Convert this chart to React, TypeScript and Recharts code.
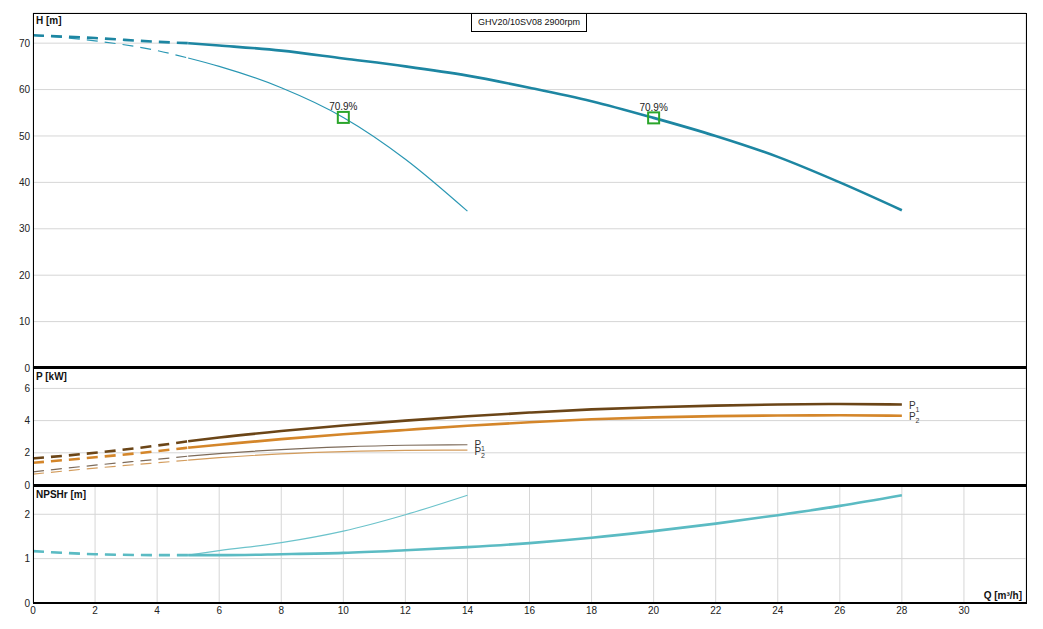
import React from "react";
import { ComposedChart, Line, XAxis, YAxis, CartesianGrid, LabelList } from "recharts";

const qTicks = [0, 2, 4, 6, 8, 10, 12, 14, 16, 18, 20, 22, 24, 26, 28, 30];
const hTicks = [0, 10, 20, 30, 40, 50, 60, 70];
const pTicks = [0, 2, 4, 6];
const npshTicks = [0, 1, 2];

// large curve, 0..28 m3/h
const qBig = [0, 2, 4, 5, 6, 8, 10, 12, 14, 16, 18, 20, 22, 24, 26, 28];
const hBig = [71.7, 71.1, 70.3, 70.0, 69.5, 68.4, 66.7, 65.0, 63.0, 60.4, 57.5, 53.9, 50.0, 45.5, 40.0, 34.0];
const p1Big = [1.65, 2.0, 2.45, 2.72, 2.95, 3.35, 3.7, 4.0, 4.27, 4.5, 4.7, 4.83, 4.93, 5.0, 5.03, 5.0];
const p2Big = [1.38, 1.72, 2.1, 2.32, 2.5, 2.85, 3.15, 3.42, 3.68, 3.9, 4.08, 4.2, 4.28, 4.32, 4.33, 4.3];
const npshBig = [1.17, 1.1, 1.08, 1.08, 1.08, 1.1, 1.13, 1.19, 1.26, 1.35, 1.47, 1.62, 1.79, 1.98, 2.19, 2.43];

// small curve, 0..14 m3/h
const qSmall = [0, 2, 4, 5, 6, 8, 10, 12, 14];
const hSmall = [71.7, 70.5, 68.4, 66.8, 65.0, 60.4, 54.0, 45.0, 33.8];
const p1Small = [0.82, 1.23, 1.6, 1.79, 1.95, 2.2, 2.37, 2.47, 2.5];
const p2Small = [0.68, 1.05, 1.38, 1.54, 1.7, 1.93, 2.07, 2.15, 2.17];
const npshSmall = [1.17, 1.1, 1.08, 1.08, 1.18, 1.36, 1.62, 1.99, 2.43];

// best efficiency points
const effQ = [10, 20];
const effH = [54.0, 53.9];
const effLabel = ["70.9%", "70.9%"];

const DASH_END = 5;

const rows = (qs: number[], vs: number[], from: number, to: number) =>
  qs.map((q, i) => ({ q, v: vs[i] })).filter((r) => r.q >= from && r.q <= to);

const effRows = effQ.map((q, i) => ({ q, v: effH[i], label: effLabel[i] }));

const FONT = "'Liberation Sans', Arial, sans-serif";
const W = 1043;
const LEFT = 33;
const RIGHT = 17;
const GRID = "#d6d6d6";
const tick = { fontSize: 10, fill: "#222", fontFamily: FONT };

const Square = (props: any) => {
  const { cx, cy } = props;
  if (cx == null || cy == null) return null;
  return <rect x={cx - 5.5} y={cy - 5.5} width={11} height={11} fill="none" stroke="#2aa52a" strokeWidth={2} />;
};

const endLabel = (n: string, count: number, dy = 0) => (props: any) => {
  const { x, y, index } = props;
  if (index !== count - 1) return null;
  return (
    <text x={x + 7} y={y + 4 + dy} fontSize={10} fill="#333" fontFamily={FONT}>
      P
      <tspan fontSize={7} dy={3}>
        {n}
      </tspan>
    </text>
  );
};

function curve(key: string, qs: number[], vs: number[], color: string, width: number, extra?: React.ReactNode) {
  const dashed = rows(qs, vs, 0, DASH_END);
  const solid = rows(qs, vs, DASH_END, 100);
  return [
    <Line
      key={key + "-d"}
      data={dashed}
      dataKey="v"
      stroke={color}
      strokeWidth={width}
      strokeDasharray="11 7"
      dot={false}
      type="monotone"
      isAnimationActive={false}
    />,
    <Line
      key={key + "-s"}
      data={solid}
      dataKey="v"
      stroke={color}
      strokeWidth={width}
      dot={false}
      type="monotone"
      isAnimationActive={false}
    >
      {extra}
    </Line>,
  ];
}

const xAxisHidden = (
  <XAxis
    dataKey="q"
    type="number"
    domain={[0, 32]}
    ticks={qTicks}
    height={0}
    tick={false}
    axisLine={false}
    tickLine={false}
    allowDuplicatedCategory={false}
  />
);

const yAxis = (domain: [number, number], ticks: number[]) => (
  <YAxis
    dataKey="v"
    type="number"
    domain={domain}
    ticks={ticks}
    width={LEFT}
    tick={tick}
    tickSize={0}
    tickMargin={3}
    axisLine={false}
    tickLine={false}
    interval={0}
  />
);

const panelLabel = (top: number): React.CSSProperties => ({
  position: "absolute",
  left: 36,
  top,
  fontSize: 10,
  fontWeight: "bold",
  color: "#111",
  fontFamily: FONT,
  lineHeight: "12px",
});

const separator = (top: number): React.CSSProperties => ({
  position: "absolute",
  left: 33,
  top,
  width: 994,
  height: 3,
  background: "#000",
  pointerEvents: "none",
});

export default function App() {
  const nSmallSolid = rows(qSmall, p1Small, DASH_END, 100).length;
  const nBigSolid = rows(qBig, p1Big, DASH_END, 100).length;
  return (
    <div style={{ position: "absolute", left: 0, top: 0, width: W, height: 629, background: "#fff", fontFamily: FONT }}>
      <style>{".recharts-surface{overflow:visible}"}</style>
      {/* head */}
      <div style={{ position: "absolute", left: 0, top: 0 }}>
        <ComposedChart width={W} height={368} margin={{ top: 13, right: RIGHT, bottom: 0, left: 0 }}>
          <CartesianGrid stroke={GRID} strokeWidth={1} />
          {xAxisHidden}
          {yAxis([0, 76.5], hTicks)}
          {curve("hs", qSmall, hSmall, "#2a97b3", 1.2)}
          {curve("hb", qBig, hBig, "#1d86a2", 2.6)}
          <Line
            data={effRows}
            dataKey="v"
            stroke="none"
            dot={<Square />}
            activeDot={false}
            isAnimationActive={false}
          >
            <LabelList dataKey="label" position="top" offset={7} fontSize={10} fill="#222" fontFamily={FONT} />
          </Line>
        </ComposedChart>
      </div>
      {/* power */}
      <div style={{ position: "absolute", left: 0, top: 367 }}>
        <ComposedChart width={W} height={118} margin={{ top: 0, right: RIGHT, bottom: 0, left: 0 }}>
          <CartesianGrid stroke={GRID} strokeWidth={1} />
          {xAxisHidden}
          {yAxis([0, 7.33], pTicks)}
          {curve("p1s", qSmall, p1Small, "#7d6b5a", 1.2, <LabelList content={endLabel("1", nSmallSolid, -1)} />)}
          {curve("p2s", qSmall, p2Small, "#d39c5c", 1.2, <LabelList content={endLabel("2", nSmallSolid, 1)} />)}
          {curve("p2b", qBig, p2Big, "#d4862a", 2.6, <LabelList content={endLabel("2", nBigSolid)} />)}
          {curve("p1b", qBig, p1Big, "#6b4517", 2.6, <LabelList content={endLabel("1", nBigSolid)} />)}
        </ComposedChart>
      </div>
      {/* npsh */}
      <div style={{ position: "absolute", left: 0, top: 485 }}>
        <ComposedChart width={W} height={144} margin={{ top: 0, right: RIGHT, bottom: 0, left: 0 }}>
          <CartesianGrid stroke={GRID} strokeWidth={1} />
          <XAxis
            dataKey="q"
            type="number"
            domain={[0, 32]}
            ticks={qTicks}
            height={26}
            tick={tick}
            tickSize={0}
            tickMargin={4}
            axisLine={{ stroke: "#000", strokeWidth: 2 }}
            tickLine={false}
            interval={0}
            allowDuplicatedCategory={false}
          />
          {yAxis([0, 2.66], npshTicks)}
          {curve("ns", qSmall, npshSmall, "#6cc3cb", 1.2)}
          {curve("nb", qBig, npshBig, "#5bbbc3", 2.6)}
        </ComposedChart>
      </div>
      {/* frame */}
      <div
        style={{
          position: "absolute",
          left: 32.5,
          top: 12.5,
          width: 994,
          height: 591,
          border: "1.3px solid #000",
          boxSizing: "border-box",
          pointerEvents: "none",
        }}
      />
      <div style={separator(366)} />
      <div style={separator(483.5)} />
      <div style={panelLabel(15)}>H [m]</div>
      <div style={panelLabel(371)}>P [kW]</div>
      <div style={panelLabel(489)}>NPSHr [m]</div>
      <div style={{ ...panelLabel(590), left: "auto", right: 21 }}>Q [m³/h]</div>
      <div
        style={{
          position: "absolute",
          left: 471,
          top: 13,
          width: 116,
          height: 19,
          border: "1px solid #000",
          boxSizing: "border-box",
          background: "#fff",
          fontSize: 9,
          lineHeight: "17px",
          textAlign: "center",
          color: "#111",
          fontFamily: FONT,
        }}
      >
        GHV20/10SV08 2900rpm
      </div>
    </div>
  );
}
